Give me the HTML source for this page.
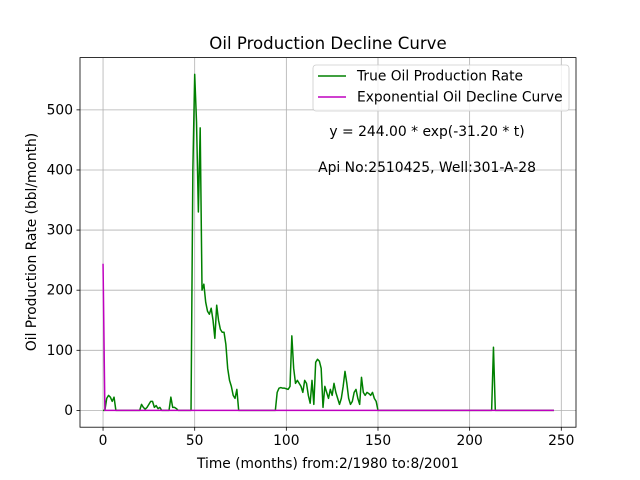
<!DOCTYPE html>
<html><head><meta charset="utf-8"><style>
body{margin:0;background:#fff}
svg{display:block;font-family:"DejaVu Sans","Liberation Sans",sans-serif}
</style></head><body>
<svg id="chart" width="640" height="480" viewBox="0 0 640 480" xmlns="http://www.w3.org/2000/svg">
<rect width="640" height="480" fill="#fff"/>
<g id="grid"></g>
<g id="series"></g>
<rect x="80" y="57.6" width="496" height="369.6" fill="none" stroke="#000" stroke-width="0.8"/>
<g id="ticks"></g>
<text x="328" y="49" font-size="16.6" text-anchor="middle">Oil Production Decline Curve</text>
<text x="328" y="468" font-size="13.8" text-anchor="middle">Time (months) from:2/1980 to:8/2001</text>
<text transform="translate(36,242) rotate(-90)" font-size="13.8" text-anchor="middle">Oil Production Rate (bbl/month)</text>
<g>
<rect x="313" y="65" width="256" height="46" rx="3" fill="#fff" fill-opacity="0.8" stroke="#ccc" stroke-width="0.8"/>
<line x1="318" y1="76" x2="346" y2="76" stroke="#008000" stroke-width="1.5"/>
<text x="357" y="80.5" font-size="13.8">True Oil Production Rate</text>
<line x1="318" y1="97" x2="346" y2="97" stroke="#bf00bf" stroke-width="1.5"/>
<text x="357" y="101.5" font-size="13.8">Exponential Oil Decline Curve</text>
</g>
<text x="427" y="136" font-size="13.9" text-anchor="middle">y = 244.00 * exp(-31.20 * t)</text>
<text x="427" y="172" font-size="13.9" text-anchor="middle">Api No:2510425, Well:301-A-28</text>
</svg>
<script>
const xTicks=[0,50,100,150,200,250];
const yTicks=[0,100,200,300,400,500];
const trueNonZero=[[2,20],[3,25],[4,22],[5,15],[6,22],[21,10],[22,5],[23,2],[24,5],[25,10],[26,15],[27,15],[28,5],[29,8],[30,3],[31,5],[37,22],[38,5],[39,5],[40,3],
[49,400],[50,559],[51,480],[52,330],[53,470],[54,200],[55,210],[56,180],[57,165],[58,160],[59,170],[60,150],[61,120],[62,175],[63,150],[64,135],[65,130],[66,130],[67,110],[68,70],[69,50],[70,40],[71,25],[72,20],[73,35],
[95,30],[96,37],[97,38],[98,37],[99,37],[100,36],[101,35],[102,40],[103,124],[104,70],[105,45],[106,50],[107,45],[108,40],[109,30],[110,50],[111,45],[112,25],[113,12],[114,50],[115,10],[116,80],[117,85],[118,82],[119,70],[120,5],
[121,40],[122,30],[123,20],[124,35],[125,25],[126,45],[127,30],[128,20],[129,10],[130,20],[131,40],[132,65],[133,45],[134,20],[135,10],[136,15],[137,30],[138,35],[139,20],[140,10],[141,55],[142,30],[143,25],[144,30],[145,28],[146,25],[147,30],[148,20],[149,15],[213,105]];
const nMonths=247;
const expA=244.0, expB=31.20;
const X=m=>80.5+(m+12.3)/270.6*496;
const Y=v=>427.2-(v+27.95)/614.9*369.6;
const NS='http://www.w3.org/2000/svg';
function mk(tag,attrs,parent){const e=document.createElementNS(NS,tag);for(const k in attrs)e.setAttribute(k,attrs[k]);parent.appendChild(e);return e;}
const grid=document.getElementById('grid'),ticks=document.getElementById('ticks'),series=document.getElementById('series');
xTicks.forEach(t=>{
 const l=mk('line',{x1:X(t),x2:X(t),y1:57.6,y2:427.2,stroke:'#b0b0b0','stroke-width':0.8},grid);
 
 
 mk('line',{x1:X(t),x2:X(t),y1:427.2,y2:430.7,stroke:'#000','stroke-width':0.8},ticks);
 const tx=mk('text',{x:X(t),y:445,'font-size':13.8,'text-anchor':'middle'},ticks);
 tx.textContent=t;
 
 
});
yTicks.forEach(t=>{
 const l=mk('line',{x1:80,x2:576,y1:Y(t),y2:Y(t),stroke:'#b0b0b0','stroke-width':0.8},grid);
 
 
 mk('line',{x1:76.5,x2:80,y1:Y(t),y2:Y(t),stroke:'#000','stroke-width':0.8},ticks);
 const tx=mk('text',{x:73,y:Y(t)+4.5,'font-size':13.8,'text-anchor':'end'},ticks);
 tx.textContent=t;
 
 
});
const vals=new Array(nMonths).fill(0);
trueNonZero.forEach(([m,v])=>{vals[m]=v;});
const gp=mk('polyline',{points:vals.map((v,m)=>X(m)+','+Y(v)).join(' '),fill:'none',stroke:'#008000','stroke-width':1.5,'stroke-linejoin':'round'},series);


const ev=[];for(let m=0;m<nMonths;m++)ev.push(expA*Math.exp(-expB*m));
const mp=mk('polyline',{points:ev.map((v,m)=>X(m)+','+Y(v)).join(' '),fill:'none',stroke:'#bf00bf','stroke-width':1.5,'stroke-linejoin':'round'},series);


</script>
</body></html>
